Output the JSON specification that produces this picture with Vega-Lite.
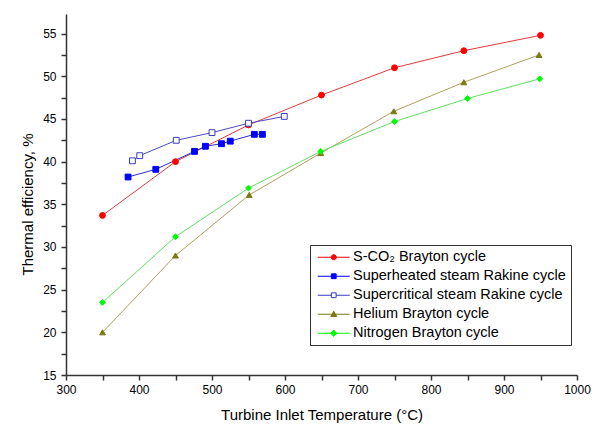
{
  "$schema": "https://vega.github.io/schema/vega-lite/v6.json",
  "width": 511,
  "height": 361,
  "autosize": {"type": "none"},
  "padding": {"left": 66, "top": 14, "right": 29, "bottom": 69},
  "background": "white",
  "config": {
    "view": {"stroke": null},
    "font": "Liberation Sans",
    "legend": {
      "orient": "none",
      "legendX": 244,
      "legendY": 231,
      "strokeColor": "#333333",
      "fillColor": "white",
      "padding": 5,
      "labelFont": "Liberation Sans",
      "labelFontSize": 14.5,
      "labelColor": "#000000",
      "symbolSize": 36,
      "symbolStrokeWidth": 1,
      "symbolOffset": 11.5,
      "labelOffset": 12,
      "rowPadding": 4,
      "labelLimit": 400
    }
  },
  "data": {
    "values": [
      {"series": "S-CO₂ Brayton cycle", "t": 350, "eff": 33.7},
      {"series": "S-CO₂ Brayton cycle", "t": 450, "eff": 40.0},
      {"series": "S-CO₂ Brayton cycle", "t": 550, "eff": 44.3},
      {"series": "S-CO₂ Brayton cycle", "t": 650, "eff": 47.8},
      {"series": "S-CO₂ Brayton cycle", "t": 750, "eff": 51.0},
      {"series": "S-CO₂ Brayton cycle", "t": 845, "eff": 53.0},
      {"series": "S-CO₂ Brayton cycle", "t": 950, "eff": 54.8},
      {"series": "Superheated steam Rakine cycle", "t": 385, "eff": 38.2},
      {"series": "Superheated steam Rakine cycle", "t": 423, "eff": 39.1},
      {"series": "Superheated steam Rakine cycle", "t": 476, "eff": 41.2},
      {"series": "Superheated steam Rakine cycle", "t": 491, "eff": 41.8},
      {"series": "Superheated steam Rakine cycle", "t": 513, "eff": 42.1},
      {"series": "Superheated steam Rakine cycle", "t": 525, "eff": 42.4},
      {"series": "Superheated steam Rakine cycle", "t": 558, "eff": 43.2},
      {"series": "Superheated steam Rakine cycle", "t": 569, "eff": 43.2},
      {"series": "Supercritical steam Rakine cycle", "t": 391, "eff": 40.1},
      {"series": "Supercritical steam Rakine cycle", "t": 401, "eff": 40.7},
      {"series": "Supercritical steam Rakine cycle", "t": 451, "eff": 42.5},
      {"series": "Supercritical steam Rakine cycle", "t": 500, "eff": 43.4},
      {"series": "Supercritical steam Rakine cycle", "t": 550, "eff": 44.5},
      {"series": "Supercritical steam Rakine cycle", "t": 599, "eff": 45.3},
      {"series": "Helium Brayton cycle", "t": 350, "eff": 20.0},
      {"series": "Helium Brayton cycle", "t": 450, "eff": 29.0},
      {"series": "Helium Brayton cycle", "t": 551, "eff": 36.1},
      {"series": "Helium Brayton cycle", "t": 649, "eff": 41.0},
      {"series": "Helium Brayton cycle", "t": 749, "eff": 45.9},
      {"series": "Helium Brayton cycle", "t": 845, "eff": 49.3},
      {"series": "Helium Brayton cycle", "t": 948, "eff": 52.5},
      {"series": "Nitrogen Brayton cycle", "t": 350, "eff": 23.5},
      {"series": "Nitrogen Brayton cycle", "t": 450, "eff": 31.2},
      {"series": "Nitrogen Brayton cycle", "t": 550, "eff": 36.9},
      {"series": "Nitrogen Brayton cycle", "t": 649, "eff": 41.2},
      {"series": "Nitrogen Brayton cycle", "t": 750, "eff": 44.7},
      {"series": "Nitrogen Brayton cycle", "t": 850, "eff": 47.4},
      {"series": "Nitrogen Brayton cycle", "t": 949, "eff": 49.7}
    ]
  },
  "encoding": {
    "x": {
      "field": "t",
      "type": "quantitative",
      "scale": {"domain": [300, 1000], "nice": false, "zero": false},
      "axis": {
        "title": "Turbine Inlet Temperature (°C)",
        "values": [300, 350, 400, 450, 500, 550, 600, 650, 700, 750, 800, 850, 900, 950, 1000],
        "format": "d",
        "labelExpr": "datum.value % 100 === 0 ? datum.label : ''",
        "grid": false,
        "labelOverlap": false,
        "labelFlush": false,
        "domainColor": "#333333",
        "domainWidth": 1.5,
        "tickColor": "#333333",
        "tickWidth": 1.5,
        "tickSize": 5,
        "labelPadding": 4,
        "labelFont": "Liberation Sans",
        "labelFontSize": 12,
        "labelColor": "#000000",
        "titleFont": "Liberation Sans",
        "titleFontSize": 15,
        "titleFontWeight": "normal",
        "titleColor": "#000000",
        "titleY": 32,
        "encode": {"ticks": {"update": {"y2": {"signal": "datum.value % 100 === 0 ? 5 : 3"}}}}
      }
    },
    "y": {
      "field": "eff",
      "type": "quantitative",
      "scale": {"domain": [15, 57.3], "nice": false, "zero": false},
      "axis": {
        "title": "Thermal efficiency, %",
        "values": [15, 17.5, 20, 22.5, 25, 27.5, 30, 32.5, 35, 37.5, 40, 42.5, 45, 47.5, 50, 52.5, 55],
        "labelExpr": "datum.value % 5 === 0 ? datum.label : ''",
        "grid": false,
        "labelOverlap": false,
        "labelFlush": false,
        "domainColor": "#333333",
        "domainWidth": 1.5,
        "tickColor": "#333333",
        "tickWidth": 1.5,
        "tickSize": 5,
        "labelPadding": 5,
        "labelFont": "Liberation Sans",
        "labelFontSize": 12,
        "labelColor": "#000000",
        "titleFont": "Liberation Sans",
        "titleFontSize": 15,
        "titleFontWeight": "normal",
        "titleColor": "#000000",
        "titleX": -31,
        "titleY": 190,
        "encode": {"ticks": {"update": {"x2": {"signal": "datum.value % 5 === 0 ? -5 : -3"}}}}
      }
    }
  },
  "layer": [
    {
      "mark": {"type": "line", "strokeWidth": 1},
      "encoding": {
        "color": {
          "field": "series",
          "type": "nominal",
          "scale": {
            "domain": ["S-CO₂ Brayton cycle", "Superheated steam Rakine cycle", "Supercritical steam Rakine cycle", "Helium Brayton cycle", "Nitrogen Brayton cycle"],
            "range": ["#e33b3b", "#2d2dd2", "#4a4ac4", "#b0a060", "#5fe05f"]
          },
          "legend": null
        }
      }
    },
    {
      "mark": {"type": "point", "filled": true, "size": 34, "opacity": 1, "strokeWidth": 1},
      "encoding": {
        "shape": {
          "field": "series",
          "type": "nominal",
          "scale": {
            "domain": ["S-CO₂ Brayton cycle", "Superheated steam Rakine cycle", "Supercritical steam Rakine cycle", "Helium Brayton cycle", "Nitrogen Brayton cycle"],
            "range": ["circle", "square", "square", "triangle-up", "diamond"]
          },
          "legend": null
        },
        "fill": {
          "field": "series",
          "type": "nominal",
          "scale": {
            "domain": ["S-CO₂ Brayton cycle", "Superheated steam Rakine cycle", "Supercritical steam Rakine cycle", "Helium Brayton cycle", "Nitrogen Brayton cycle"],
            "range": ["#ff0000", "#0000ff", "#ffffff", "#7a7a10", "#00ff00"]
          },
          "legend": null
        },
        "stroke": {
          "field": "series",
          "type": "nominal",
          "scale": {
            "domain": ["S-CO₂ Brayton cycle", "Superheated steam Rakine cycle", "Supercritical steam Rakine cycle", "Helium Brayton cycle", "Nitrogen Brayton cycle"],
            "range": ["#ff0000", "#0000ff", "#3a3ac0", "#7a7a10", "#00ff00"]
          },
          "legend": null
        }
      }
    },
    {
      "transform": [{"filter": "datum.t < 0"}],
      "mark": {"type": "point", "filled": true, "size": 36, "opacity": 1, "strokeWidth": 1},
      "encoding": {
        "shape": {
          "field": "series",
          "type": "nominal",
          "scale": {
            "domain": ["S-CO₂ Brayton cycle", "Superheated steam Rakine cycle", "Supercritical steam Rakine cycle", "Helium Brayton cycle", "Nitrogen Brayton cycle"],
            "range": [
              "M-5.33,0H5.33M-0.85,0A0.85,0.85 0 1,1 0.85,0A0.85,0.85 0 1,1 -0.85,0Z",
              "M-5.33,0H5.33M-0.8,-0.8H0.8V0.8H-0.8Z",
              "M-5.33,0H-0.8M0.8,0H5.33M-0.8,-0.8H0.8V0.8H-0.8Z",
              "M-5.33,0H5.33M0,-1L1,0.75H-1Z",
              "M-5.33,0H5.33M0,-1.05L1.05,0L0,1.05L-1.05,0Z"
            ]
          },
          "legend": {"title": null}
        },
        "fill": {
          "field": "series",
          "type": "nominal",
          "scale": {
            "domain": ["S-CO₂ Brayton cycle", "Superheated steam Rakine cycle", "Supercritical steam Rakine cycle", "Helium Brayton cycle", "Nitrogen Brayton cycle"],
            "range": ["#ff0000", "#0000ff", "#ffffff", "#7a7a10", "#00ff00"]
          },
          "legend": {"title": null}
        },
        "stroke": {
          "field": "series",
          "type": "nominal",
          "scale": {
            "domain": ["S-CO₂ Brayton cycle", "Superheated steam Rakine cycle", "Supercritical steam Rakine cycle", "Helium Brayton cycle", "Nitrogen Brayton cycle"],
            "range": ["#ff0000", "#0000ff", "#3a3ac0", "#7a7a10", "#00ff00"]
          },
          "legend": {"title": null}
        }
      }
    }
  ],
  "resolve": {"scale": {"color": "independent", "fill": "independent", "stroke": "independent", "shape": "independent"}}
}
